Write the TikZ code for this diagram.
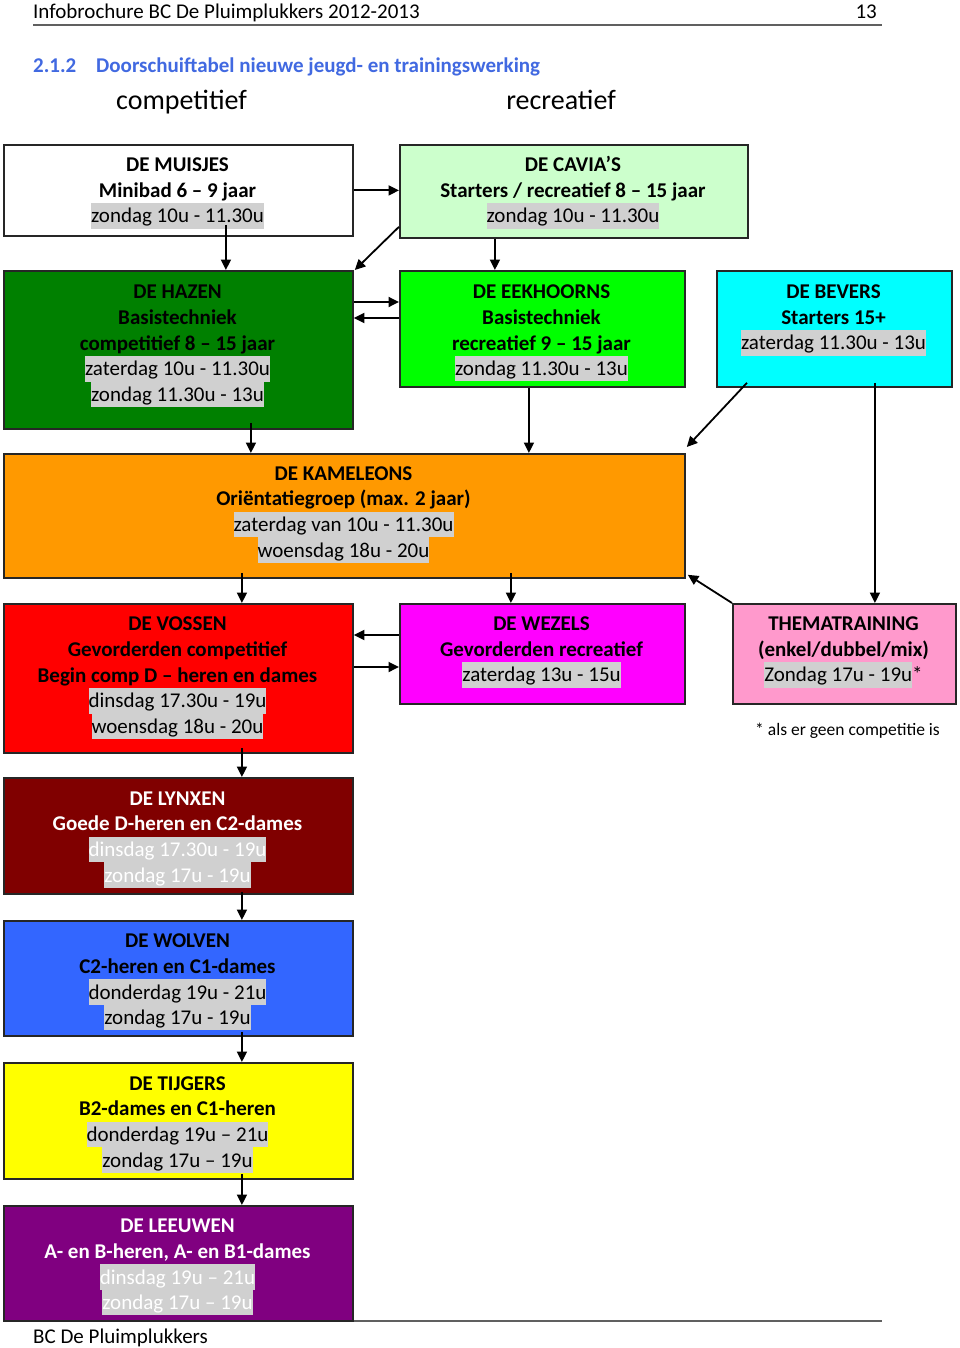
\documentclass[tikz,border=0pt]{standalone}
\usepackage{fontspec}
\setmainfont{Carlito}
\usetikzlibrary{arrows.meta}
\definecolor{hlgray}{HTML}{D0D0D0}
\definecolor{cgreen}{HTML}{008000}
\definecolor{clight}{HTML}{CCFFCC}
\definecolor{cbright}{HTML}{00FF00}
\definecolor{ccyan}{HTML}{00FFFF}
\definecolor{corange}{HTML}{FF9900}
\definecolor{cred}{HTML}{FF0000}
\definecolor{cmagenta}{HTML}{FF00FF}
\definecolor{cpink}{HTML}{FF99CC}
\definecolor{cmaroon}{HTML}{800000}
\definecolor{cblue}{HTML}{3366FF}
\definecolor{cyellow}{HTML}{FFFF00}
\definecolor{cviolet}{HTML}{800080}
\definecolor{ctitle}{HTML}{4169E1}
\definecolor{rulegray}{HTML}{606060}
\newcommand\lstrut{\rule[-5.6pt]{0pt}{25.7pt}}
\newcommand\hl[1]{{\setlength{\fboxsep}{0pt}\colorbox{hlgray}{\lstrut#1}}}
\newcommand\bt[1]{\textbf{#1}\lstrut}
\tikzset{
  box/.style={draw=black!85, line width=1.8pt, inner sep=0pt, anchor=north west},
  txt/.style={align=center, inner sep=0pt, font=\fontsize{21}{25.7}\selectfont},
  plain/.style={inner sep=0pt, font=\fontsize{21}{25.7}\selectfont},
  arr/.style={line width=1.8pt, -{Triangle[length=10.5pt,width=10pt]}}
}
\begin{document}
\begin{tikzpicture}[x=1pt,y=-1pt]
\useasboundingbox (0,0) rectangle (960,1348);
\fill[white] (0,0) rectangle (960,1348);
% header / footer
\node[plain, anchor=base west] (head) at (33,18.5) {Infobrochure BC De Pluimplukkers 2012-2013};
\node[plain, anchor=base east] (pnum) at (877,18.5) {13};
\coordinate (hl1) at (33,25);
\coordinate (hl2) at (882,25);
\draw[rulegray, line width=1.2pt] (hl1) -- (hl2);
\node[plain, anchor=base west, text=ctitle, font=\fontsize{21}{25.7}\selectfont\bfseries] (secnum) at (33,73) {2.1.2};
\node[plain, anchor=base west, text=ctitle, font=\fontsize{21}{25.7}\selectfont\bfseries] (title) at (96,73) {Doorschuiftabel nieuwe jeugd- en trainingswerking};
\node[plain, anchor=base, font=\fontsize{28}{32}\selectfont] (comp) at (181.5,110) {competitief};
\node[plain, anchor=base, font=\fontsize{28}{32}\selectfont] (recr) at (561,110) {recreatief};
\coordinate (fl1) at (33,1321);
\coordinate (fl2) at (882,1321);
\draw[rulegray, line width=1.2pt] (fl1) -- (fl2);
\node[plain, anchor=base west] (foot) at (33,1343.5) {BC De Pluimplukkers};
\node[plain, anchor=base west, font=\fontsize{17.5}{21}\selectfont] (note) at (755,735) {* als er geen competitie is};

% boxes
\node[box, fill=white,   minimum width=349pt, minimum height=91pt]  (muisjes)   at (3,144) {};
\node[box, fill=clight,  minimum width=348pt, minimum height=93pt]  (cavia)     at (399,144) {};
\node[box, fill=cgreen,  minimum width=349pt, minimum height=158pt] (hazen)     at (3,270) {};
\node[box, fill=cbright, minimum width=285pt, minimum height=116pt] (eekhoorns) at (399,270) {};
\node[box, fill=ccyan,   minimum width=235pt, minimum height=116pt] (bevers)    at (716,270) {};
\node[box, fill=corange, minimum width=681pt, minimum height=124pt] (kameleons) at (3,453) {};
\node[box, fill=cred,    minimum width=349pt, minimum height=149pt] (vossen)    at (3,603) {};
\node[box, fill=cmagenta,minimum width=285pt, minimum height=100pt] (wezels)    at (399,603) {};
\node[box, fill=cpink,   minimum width=223pt, minimum height=100pt] (thema)     at (732,603) {};
\node[box, fill=cmaroon, minimum width=349pt, minimum height=116pt] (lynxen)    at (3,777) {};
\node[box, fill=cblue,   minimum width=349pt, minimum height=115pt] (wolven)    at (3,920) {};
\node[box, fill=cyellow, minimum width=349pt, minimum height=116pt] (tijgers)   at (3,1062) {};
\node[box, fill=cviolet, minimum width=349pt, minimum height=115pt] (leeuwen)   at (3,1205) {};

% texts
\node[txt] (muisjesT) at (177.5,190) {\bt{DE MUISJES}\\ \bt{Minibad 6 – 9 jaar}\\ \hl{zondag 10u - 11.30u}};
\node[txt] (caviaT) at (573,190) {\bt{DE CAVIA’S}\\ \bt{Starters / recreatief 8 – 15 jaar}\\ \hl{zondag 10u - 11.30u}};
\node[txt] (hazenT) at (177.5,343) {\bt{DE HAZEN}\\ \bt{Basistechniek}\\ \bt{competitief 8 – 15 jaar}\\ \hl{zaterdag 10u - 11.30u}\\ \hl{zondag 11.30u - 13u}};
\node[txt] (eekhoornsT) at (541.5,330) {\bt{DE EEKHOORNS}\\ \bt{Basistechniek}\\ \bt{recreatief 9 – 15 jaar}\\ \hl{zondag 11.30u - 13u}};
\node[txt] (beversT) at (833.5,317) {\bt{DE BEVERS}\\ \bt{Starters 15+}\\ \hl{zaterdag 11.30u - 13u}};
\node[txt] (kameleonsT) at (343.5,511.5) {\bt{DE KAMELEONS}\\ \bt{Oriëntatiegroep (max. 2 jaar)}\\ \hl{zaterdag van 10u - 11.30u}\\ \hl{woensdag 18u - 20u}};
\node[txt] (vossenT) at (177.5,675) {\bt{DE VOSSEN}\\ \bt{Gevorderden competitief}\\ \bt{Begin comp D – heren en dames}\\ \hl{dinsdag 17.30u - 19u}\\ \hl{woensdag 18u - 20u}};
\node[txt] (wezelsT) at (541.5,649) {\bt{DE WEZELS}\\ \bt{Gevorderden recreatief}\\ \hl{zaterdag 13u - 15u}};
\node[txt] (themaT) at (843.5,649) {\bt{THEMATRAINING}\\ \bt{(enkel/dubbel/mix)}\\ \hl{Zondag 17u - 19u}*};
\node[txt, text=white] (lynxenT) at (177.5,836.5) {\bt{DE LYNXEN}\\ \bt{Goede D-heren en C2-dames}\\ \hl{dinsdag 17.30u - 19u}\\ \hl{zondag 17u - 19u}};
\node[txt] (wolvenT) at (177.5,979) {\bt{DE WOLVEN}\\ \bt{C2-heren en C1-dames}\\ \hl{donderdag 19u - 21u}\\ \hl{zondag 17u - 19u}};
\node[txt] (tijgersT) at (177.5,1121.5) {\bt{DE TIJGERS}\\ \bt{B2-dames en C1-heren}\\ \hl{donderdag 19u – 21u}\\ \hl{zondag 17u – 19u}};
\node[txt, text=white] (leeuwenT) at (177.5,1264) {\bt{DE LEEUWEN}\\ \bt{A- en B-heren, A- en B1-dames}\\ \hl{dinsdag 19u – 21u}\\ \hl{zondag 17u – 19u}};

% connectors
\draw[arr] (muisjes.east) -- (muisjes.east -| cavia.west);
\draw[arr] ([xshift=47.5pt,yshift=12pt]muisjes.south) -- ([xshift=47.5pt]hazen.north);
\draw[arr] ([yshift=12pt]cavia.south west) -- ([xshift=1pt]hazen.north east);
\draw[arr] ([xshift=-79pt]cavia.south) -- ([xshift=-47.5pt]eekhoorns.north);
\draw[arr] ([yshift=-32pt]hazen.north east) -- ([yshift=-32pt]eekhoorns.north west);
\draw[arr] ([yshift=-48pt]eekhoorns.north west) -- ([yshift=-48pt]hazen.north east);
\draw[arr] ([xshift=72.5pt,yshift=7pt]hazen.south) -- ([xshift=-93.5pt]kameleons.north);
\draw[arr] ([xshift=-13.5pt]eekhoorns.south) -- ([xshift=184.5pt]kameleons.north);
\draw[arr] ([xshift=31pt,yshift=5pt]bevers.south west) -- ([xshift=1pt,yshift=6pt]kameleons.north east);
\draw[arr] ([xshift=40.5pt,yshift=5pt]bevers.south) -- ([xshift=30.5pt]thema.north);
\draw[arr] (thema.north west) -- ([xshift=2pt,yshift=4pt]kameleons.south east);
\draw[arr] ([xshift=-102.5pt,yshift=6pt]kameleons.south) -- ([xshift=63.5pt]vossen.north);
\draw[arr] ([xshift=166.5pt,yshift=6pt]kameleons.south) -- ([xshift=-31.5pt]wezels.north);
\draw[arr] ([yshift=-32pt]wezels.north west) -- ([yshift=-32pt]vossen.north east);
\draw[arr] ([yshift=-64pt]vossen.north east) -- ([yshift=-64pt]wezels.north west);
\draw[arr] ([xshift=63.5pt,yshift=6pt]vossen.south) -- ([xshift=63.5pt]lynxen.north);
\draw[arr] ([xshift=63.5pt,yshift=3pt]lynxen.south) -- ([xshift=63.5pt]wolven.north);
\draw[arr] ([xshift=63.5pt,yshift=5pt]wolven.south) -- ([xshift=63.5pt]tijgers.north);
\draw[arr] ([xshift=63.5pt,yshift=6pt]tijgers.south) -- ([xshift=63.5pt]leeuwen.north);
\end{tikzpicture}
\end{document}
